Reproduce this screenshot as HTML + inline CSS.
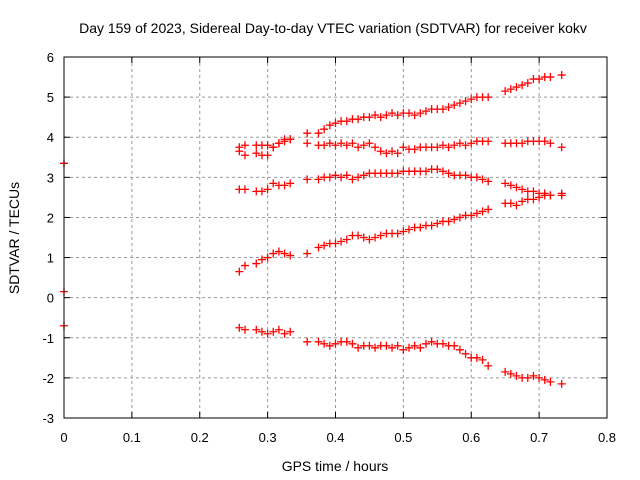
<!DOCTYPE html>
<html><head><meta charset="utf-8"><style>
body{margin:0;background:#fff}
svg{display:block;font-family:"Liberation Sans",sans-serif}
</style></head><body>
<svg id="c" width="640" height="480">
<text x="333" y="33" text-anchor="middle" font-size="14">Day 159 of 2023, Sidereal Day-to-day VTEC variation (SDTVAR) for receiver kokv</text>
<text x="335" y="471" text-anchor="middle" font-size="14">GPS time / hours</text>
<text transform="translate(19,238) rotate(-90)" text-anchor="middle" font-size="14">SDTVAR / TECUs</text>
<g id="grid"></g><g id="ticks"></g><g id="pts"></g>
<rect x="64" y="57" width="543" height="361" fill="none" stroke="#000"/>
</svg>
<script>
const xTicks=[0,0.1,0.2,0.3,0.4,0.5,0.6,0.7,0.8];
const yTicks=[-3,-2,-1,0,1,2,3,4,5,6];
const t0=0.2583, dt=0.008333;
const sA=[3.75,3.8,null,3.8,3.8,3.8,3.75,3.85,3.95,3.95,null,null,4.1,null,
4.1,4.2,4.3,4.35,4.4,4.4,4.45,4.45,4.5,4.5,4.55,4.5,4.55,4.6,4.55,4.6,4.6,4.55,4.6,4.65,4.7,4.7,4.7,4.75,4.8,4.85,4.9,4.95,5.0,5.0,5.0,
null,null,5.15,5.2,5.25,5.3,5.35,5.45,5.45,5.5,5.5,null,5.55];
const sB=[3.65,3.55,null,3.6,3.55,3.55,3.75,3.85,3.9,3.95,null,null,3.85,null,
3.8,3.8,3.85,3.8,3.85,3.8,3.85,3.75,3.8,3.85,3.75,3.65,3.6,3.65,3.6,3.75,3.7,3.7,3.75,3.75,3.75,3.75,3.8,3.75,3.8,3.85,3.8,3.85,3.9,3.9,3.9,
null,null,3.85,3.85,3.85,3.85,3.9,3.9,3.9,3.9,3.85,null,3.75];
const sC=[2.7,2.7,null,2.65,2.65,2.7,2.85,2.8,2.8,2.85,null,null,2.95,null,
2.95,3.0,3.0,3.05,3.0,3.05,2.95,3.0,3.05,3.1,3.1,3.1,3.1,3.1,3.1,3.15,3.15,3.15,3.15,3.15,3.2,3.2,3.15,3.1,3.05,3.05,3.05,3.0,3.0,2.95,2.9,
null,null,2.85,2.8,2.75,2.7,2.65,2.65,2.6,2.6,2.55,null,2.6];
const sD=[0.65,0.8,null,0.85,0.95,1.0,1.1,1.15,1.1,1.05,null,null,1.1,null,
1.25,1.3,1.35,1.35,1.4,1.45,1.55,1.55,1.5,1.45,1.5,1.55,1.6,1.6,1.6,1.65,1.7,1.75,1.75,1.8,1.8,1.85,1.9,1.9,1.95,2.0,2.05,2.05,2.1,2.15,2.2,
null,null,2.35,2.35,2.3,2.4,2.45,2.45,2.5,2.55,2.55,null,2.55];
const sE=[-0.75,-0.8,null,-0.8,-0.85,-0.9,-0.85,-0.8,-0.9,-0.85,null,null,-1.1,null,
-1.1,-1.15,-1.2,-1.15,-1.1,-1.1,-1.15,-1.25,-1.2,-1.2,-1.25,-1.2,-1.2,-1.25,-1.2,-1.3,-1.25,-1.2,-1.25,-1.15,-1.1,-1.15,-1.15,-1.2,-1.2,-1.3,-1.4,-1.5,-1.5,-1.55,-1.7,
null,null,-1.85,-1.9,-1.95,-2.0,-2.0,-1.95,-2.0,-2.05,-2.1,null,-2.15];
const zeroVals=[3.35,0.15,-0.7];
const X=v=>64+v/0.8*543, Y=v=>418-(v+3)/9*361;
const NS="http://www.w3.org/2000/svg";
function mk(tag,attrs,parent){const e=document.createElementNS(NS,tag);for(const k in attrs)e.setAttribute(k,attrs[k]);document.getElementById(parent).appendChild(e);return e;}
xTicks.forEach(v=>{const x=X(v);
 if(v>0&&v<0.8){const l=mk('line',{x1:x,x2:x,y1:57,y2:418,stroke:'#999','stroke-dasharray':'3,3'},'grid');
 
 }
 mk('line',{x1:x,x2:x,y1:418,y2:412,stroke:'#000'},'ticks');mk('line',{x1:x,x2:x,y1:57,y2:63,stroke:'#000'},'ticks');
 const t=mk('text',{x:x,y:442,'text-anchor':'middle','font-size':13},'ticks');t.textContent=String(v);
 
 });
yTicks.forEach(v=>{const y=Y(v);
 if(v>-3&&v<6){const l=mk('line',{x1:64,x2:607,y1:y,y2:y,stroke:'#999','stroke-dasharray':'3,3'},'grid');
 
 }
 mk('line',{x1:64,x2:70,y1:y,y2:y,stroke:'#000'},'ticks');mk('line',{x1:601,x2:607,y1:y,y2:y,stroke:'#000'},'ticks');
 const t=mk('text',{x:54,y:y+5,'text-anchor':'end','font-size':13},'ticks');t.textContent=String(v);
 
 });
function plus(xv,yv,name){const x=X(xv),y=Y(yv);
 const p=mk('path',{d:`M${x-4},${y}h8M${x},${y-4}v8`,stroke:'#f00','stroke-width':1.3},'pts');
 
 }
[sA,sB,sC,sD,sE].forEach((s,k)=>s.forEach((v,i)=>{if(v!==null)plus(t0+i*dt,v,'point-series-'+(k+1));}));
zeroVals.forEach(v=>plus(0,v,'point-t0'));
</script>
</body></html>
